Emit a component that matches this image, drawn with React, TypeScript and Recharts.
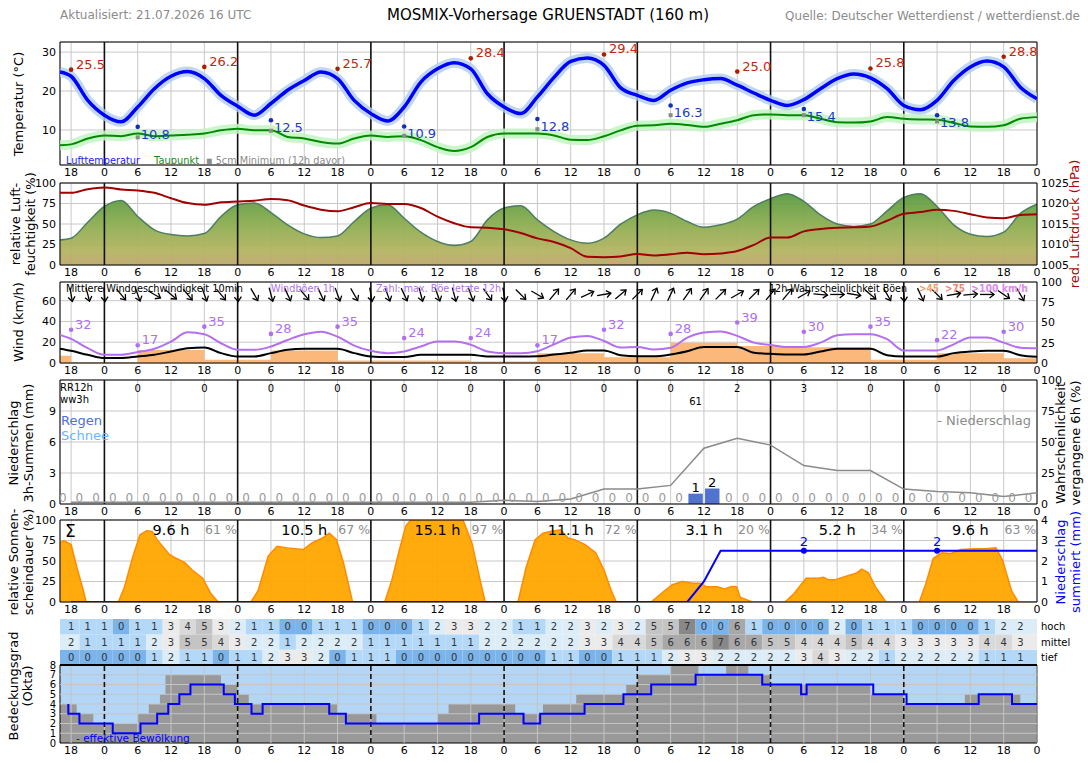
import React from 'react';
import {
  ComposedChart, Line, Area, XAxis, YAxis, CartesianGrid, ReferenceLine, ReferenceArea,
} from 'recharts';

// time axis: hours relative to 22.07. 00 UTC, run starts 21.07. 16 UTC
const START = -8;
const END = 168;

const hours3 = [START, ...Array.from({ length: 59 }, (_, i) => -6 + 3 * i)];

const temperature = [
  24.9, 23.8, 17.6, 13.8, 12.1, 15.9, 20.6, 23.8, 25.0, 23.2,
  18.9, 16.1, 13.8, 16.8, 20.2, 22.7, 24.9, 23.2, 17.6, 14.2,
  12.3, 15.9, 22.3, 25.7, 27.3, 25.7, 19.3, 15.9, 14.2, 18.5,
  23.5, 27.6, 28.5, 26.6, 20.8, 18.9, 17.6, 20.2, 22.1, 22.9,
  23.2, 21.5, 19.5, 17.6, 16.3, 17.8, 20.6, 23.2, 24.4, 23.4,
  20.6, 16.3, 15.2, 17.6, 22.7, 26.2, 27.7, 26.2, 21.0, 18.0,
];
const dewPoint = [
  6.1, 6.3, 7.8, 8.6, 8.4, 9.1, 8.4, 8.6, 8.8, 9.1,
  9.9, 10.3, 9.9, 9.9, 8.2, 7.8, 6.9, 6.5, 7.8, 8.6,
  8.2, 8.4, 7.4, 5.6, 4.6, 5.6, 8.2, 9.1, 9.1, 9.1,
  8.6, 7.5, 7.4, 8.4, 9.9, 11.1, 11.2, 11.6, 11.3, 10.8,
  11.6, 12.5, 13.8, 14.0, 13.8, 13.8, 12.9, 12.0, 11.9, 12.2,
  13.3, 12.9, 12.7, 12.6, 11.8, 10.9, 10.8, 11.2, 12.9, 13.3,
];
const humidity = [
  30.6, 32.7, 52.2, 71.4, 78.8, 59.2, 42.9, 37.1, 35.5, 38.4,
  59.2, 73.5, 75.5, 64, 49, 38, 33.5, 35.5, 53, 69.4,
  73.5, 57, 40, 28.6, 23.7, 28.6, 55, 69.4, 72.2, 55,
  40.8, 30.6, 26.5, 32.7, 49.8, 61.2, 67, 63, 53, 46,
  49, 56, 71.4, 80.8, 87, 77.6, 61, 50, 47, 50,
  66, 82.4, 87, 71.4, 49, 37.6, 34.7, 40, 63, 74.3,
];
const pressure = [
  1022.6, 1022.6, 1023.5, 1023.9, 1023.4, 1023.2, 1022.6, 1021.3, 1020.1, 1019.7,
  1020.3, 1020.5, 1020.7, 1021.1, 1020.8, 1019.5, 1018.5, 1018.1, 1019.1, 1020.1,
  1019.9, 1019.9, 1018.9, 1016.8, 1015.2, 1014.2, 1014.1, 1013.7, 1012.8, 1011.5,
  1010.6, 1009.1, 1007.0, 1006.9, 1007.1, 1007.7, 1007.3, 1007.6, 1008.0, 1007.6,
  1007.8, 1008.4, 1009.9, 1011.7, 1011.7, 1013.2, 1013.8, 1014.1, 1014.2, 1014.4,
  1015.8, 1017.5, 1017.9, 1018.5, 1018.2, 1017.4, 1016.6, 1016.4, 1017.2, 1017.4,
];
const windMean = [
  13.7, 11.7, 7.9, 4.8, 4.8, 6.3, 7.9, 11.1, 14.3, 14.9,
  9.5, 6.3, 6.3, 9.5, 12.7, 13.7, 13.7, 13.7, 9.5, 6.3,
  5.7, 5.7, 7.9, 7.9, 7.9, 7.9, 6.3, 6.3, 6.3, 6.5,
  8.2, 9.8, 12.1, 12.1, 7.5, 6.5, 6.5, 8.2, 11.4, 15.4,
  15.4, 15.4, 9.8, 8.8, 8.2, 8.2, 11.1, 13.7, 13.7, 13.7,
  7.5, 6.2, 6.2, 6.2, 9.5, 11.1, 11.8, 11.8, 7.5, 5.9,
];
const windGust = [
  27, 23.2, 14.3, 7.9, 7.9, 10.5, 13.7, 20.6, 29.5, 27.6,
  19, 12.7, 12.7, 15.9, 22.2, 27.6, 30.2, 25.4, 16.8, 11.7,
  9.5, 11.1, 15.9, 20.6, 20.6, 17.5, 11.1, 9.5, 9.5, 11.4,
  18, 24.5, 26.1, 21.2, 15, 15.4, 13.1, 14.7, 24.5, 29.4,
  30.4, 26.1, 19.6, 17.3, 15.4, 15.4, 19.6, 26.8, 27.8, 27.8,
  22.9, 12.1, 12.1, 12.1, 18, 24.5, 24.5, 19.6, 14.7, 14.1,
];

const maxHours = [-6, 18, 42, 66, 90, 114, 138, 162];
const maxTemp = [25.5, 26.2, 25.7, 28.4, 29.4, 25.0, 25.8, 28.8];
const minHours = [6, 30, 54, 78, 102, 126, 150];
const minTemp = [10.8, 12.5, 10.9, 12.8, 16.3, 15.4, 13.8];
const ground5cm = [8.1, 9.8, 8.5, 10.2, 13.8, 13.8, 12.2];

// wind direction (deg, from) every 3 h
const dirHours = Array.from({ length: 58 }, (_, i) => -6 + 3 * i);
const windDir = [
  350, 345, 355, 320, 340, 300, 310, 320, 340, 320,
  355, 330, 345, 335, 320, 335, 340, 330, 350, 340,
  335, 345, 340, 345, 340, 325, 350, 315, 300,
  220, 220, 245, 260, 230, 225, 205, 205, 215, 215,
  225, 240, 225, 220, 220, 240, 275, 270, 280, 310,
  330, 355, 335, 315, 260, 265, 270, 305, 330,
];

const gustMaxHours = Array.from({ length: 15 }, (_, i) => -6 + 12 * i);
const gustMax = [32, 17, 35, 28, 35, 24, 24, 17, 32, 28, 39, 30, 35, 22, 30];

const gustProbHours = [-8, -6, 6, 18, 30, 42, 54, 66, 78, 90, 102, 114, 126, 138, 150, 162, 168];
const gustProb45 = [9, 1, 16, 4, 15.5, 3, 3, 2, 12, 7, 25, 21, 19.5, 4, 12, 6, 6];

// precipitation, 3 h sums (interval centres)
const precipHours = Array.from({ length: 59 }, (_, i) => -7.5 + 3 * i);
const precip3h = [
  0, 0, 0, 0, 0, 0, 0, 0, 0, 0, 0, 0, 0, 0, 0, 0, 0, 0, 0, 0,
  0, 0, 0, 0, 0, 0, 0, 0, 0, 0, 0, 0, 0, 0, 0, 0, 0, 0, 1.0, 1.5,
  0, 0, 0, 0, 0, 0, 0, 0, 0, 0, 0, 0, 0, 0, 0, 0, 0, 0, 0,
];
const rr12Hours = Array.from({ length: 14 }, (_, i) => 6 + 12 * i);
const rr12 = [0, 0, 0, 0, 0, 0, 0, 0, 0, 2, 3, 0, 0, 0];
const wwHours = [106.5];
const wwCode = [61];
const probHours = Array.from({ length: 30 }, (_, i) => -6 + 6 * i);
const precipProb = [
  1.5, 1.5, 1.5, 1.5, 1.5, 1.5, 1.5, 1.5, 1.5, 1.5, 1.5, 1.5, 1.5,
  3, 2, 4, 12, 12, 15, 45, 53, 47.5, 31, 27, 27, 12, 10, 9, 6, 9,
];

// relative sunshine duration (%)
const sunT = [
  -8, -7.3, -6, -5, -3.8, -3.3,
  2.5, 3.6, 5.1, 6.4, 7.6, 8.6, 9.5, 11.7, 13, 14.5, 15.8, 17.7, 19.2, 20.5,
  26.4, 27.7, 29.5, 31.1, 33, 35.8, 37.4, 39.3, 40.5, 41.8, 43.1, 44.7,
  50.5, 51.8, 53, 54.3, 55.2, 64.6, 66.2, 67.8, 68.6,
  74.5, 76, 77.6, 79, 80.3, 82.2, 83.5, 84.7, 86.6, 88.5, 90, 91.3, 92.2,
  98.5, 100.4, 102.3, 104.1, 106, 107.3, 108.5, 110.4, 111.7, 113, 113.9, 114.5, 116, 116.7,
  122.6, 124.2, 126.4, 128.6, 129.5, 130.5, 131.6, 132.9, 135.4, 136.4, 137.6, 138.9, 140.8,
  146.8, 148, 149.3, 150.8, 152.4, 154.3, 156.8, 158.7, 160.6, 161.8, 163.4, 164.6, 168,
];
const sunV = [
  72, 75, 70, 43, 14, 0,
  0, 18, 55, 82, 87, 86, 76, 58, 53, 48, 39, 29, 10, 0,
  0, 14, 56, 68, 66, 64, 72, 78, 84, 76, 47, 0,
  0, 27, 60, 93, 100, 100, 72, 23, 0,
  0, 43, 76, 84, 86, 88, 78, 76, 70, 60, 39, 14, 0,
  0, 11, 21, 25, 23, 23, 18.5, 18.5, 16, 19, 18.5, 6, 2, 0,
  0, 10, 29, 29, 30, 27, 27, 30, 35, 40, 36, 18.5, 0,
  0, 23, 53, 60, 59, 64, 65, 65, 66, 51, 14, 0, 0,
];
const sunDayHours = [9.6, 10.5, 15.1, 11.1, 3.1, 5.2, 9.6];
const sunDayPct = [61, 67, 97, 72, 20, 34, 63];
const sumMarkHours = [126, 150];

// cloud layers (okta) every 3 h
const layerHours = Array.from({ length: 58 }, (_, i) => -6 + 3 * i);
const cloudHigh = [
  1, 1, 1, 0, 1, 1, 3, 4, 5, 3, 2, 1, 1, 0, 0, 1, 1, 1, 0, 0, 0, 1, 2, 3, 3, 2, 2, 1, 1,
  2, 2, 3, 2, 3, 2, 5, 5, 7, 0, 0, 6, 1, 0, 0, 0, 0, 2, 0, 1, 1, 1, 0, 0, 0, 0, 1, 2, 2,
];
const cloudMid = [
  2, 1, 1, 1, 1, 2, 3, 5, 5, 4, 3, 2, 2, 1, 2, 2, 2, 2, 1, 1, 1, 1, 1, 1, 1, 2, 2, 2, 2,
  2, 2, 3, 3, 4, 4, 5, 6, 6, 6, 7, 6, 6, 5, 5, 4, 4, 4, 5, 4, 4, 3, 3, 3, 3, 3, 4, 4, 3,
];
const cloudLow = [
  0, 0, 0, 0, 0, 1, 2, 1, 1, 0, 1, 1, 2, 3, 3, 2, 0, 1, 1, 1, 0, 0, 0, 0, 0, 0, 0, 0, 0,
  1, 1, 0, 0, 1, 1, 1, 2, 3, 3, 2, 2, 2, 2, 2, 3, 4, 3, 2, 2, 1, 2, 2, 2, 2, 2, 1, 1, 1,
];
const totalCloudHours = [-8, -5, -2, 6, 8, 10, 11, 21, 24, 26, 42, 49, 60, 62, 74, 79, 85, 94, 96, 102, 107, 112, 116, 120, 138, 144, 155, 165, 168];
const totalCloud = [4, 3, 2, 3, 4, 5, 7, 6, 5, 4, 3, 2, 3, 4, 3, 4, 5, 6, 7, 8, 7, 8, 7, 6, 5, 4, 5, 4, 4];
const effCloudHours = [-6.5, -6.5, -4.5, 1.5, 6.5, 9.5, 11.5, 13.5, 15.5, 21.5, 23.5, 26.5, 28.5, 40.5, 43.5, 67.5, 75.5, 78.5, 86.5, 93.5, 98.5, 106.5, 118.5, 125.5, 126.5, 138.5, 144.5, 157.5, 163.5, 168];
const effCloud = [4, 3, 2, 1, 2, 3, 4, 5, 6, 5, 4, 3, 4, 3, 2, 3, 2, 3, 4, 5, 6, 7, 6, 5, 6, 5, 4, 5, 4, 4];

const dayTicks = [-4, 12, 36, 60, 84, 108, 132, 156];
const dayNames = ['Di', 'Mi 22.07', 'Do 23.07', 'Fr 24.07', 'Sa 25.07', 'So 26.07', 'Mo 27.07', 'Di 28.07'];
const layerNames = ['tief', 'mittel', 'hoch'];

// ---- rows for the series ----
const meteoRows = hours3.map((h, i) => ({
  h, t: temperature[i], td: dewPoint[i], rh: humidity[i], p: pressure[i], ff: windMean[i], fx: windGust[i],
}));
const maxRows = maxHours.map((h, i) => ({ h, v: maxTemp[i] }));
const minRows = minHours.map((h, i) => ({ h, v: minTemp[i] }));
const groundRows = minHours.map((h, i) => ({ h, v: ground5cm[i] }));
const dirRows = dirHours.map((h, i) => ({ h, dir: windDir[i] }));
const gustMaxRows = gustMaxHours.map((h, i) => ({ h, v: gustMax[i] }));
const gustProbRows = gustProbHours.map((h, i) => ({ h, p: gustProb45[i] }));
const precipRows = precipHours.map((h, i) => ({ h, mm: precip3h[i] }));
const rr12Rows = rr12Hours.map((h, i) => ({ h, rr: rr12[i] }));
const wwRows = wwHours.map((h, i) => ({ h, ww: wwCode[i] }));
const probRows = probHours.map((h, i) => ({ h, p: precipProb[i] }));
const sunRows = sunT.map((h, i) => ({ h, s: sunV[i] }));
let running = 0;
const sumRows = precipHours.map((h, i) => {
  running += precip3h[i];
  return { h: h + 1.5, sum: running };
});
const sumMarks = sumMarkHours.map((h) => ({ h, sum: sumRows.find((r) => r.h === h)!.sum }));
const sunHourRows = sunDayHours.map((s, i) => ({ h: 12 + 24 * i, s }));
const sunPctRows = sunDayPct.map((pct, i) => ({ h: 21 + 24 * i, pct }));
const layerRows = layerHours.map((h, i) => ({ h, low: cloudLow[i], mid: cloudMid[i], high: cloudHigh[i] }));
const totalRows = totalCloudHours.map((h, i) => ({ h, n: totalCloud[i] }));
const effRows = effCloudHours.map((h, i) => ({ h, n: effCloud[i] }));

// ---- styling ----
const FONT = "'DejaVu Sans', Verdana, sans-serif";
const TICK = { fontSize: 11, fill: '#000' };
const X_TICKS = Array.from({ length: 30 }, (_, i) => -6 + 6 * i);
const DAY_LINES = [0, 24, 48, 72, 96, 120, 144];
const hourLabel = (h: number) => String(((h % 24) + 24) % 24);
const oktaColor = ['#7ab4ea', '#b4d8f8', '#dcedf8', '#ebebeb', '#d9d9d9', '#c4c4c4', '#a8a8a8', '#888888', '#707070'];

const timeAxis = {
  dataKey: 'h', type: 'number' as const, domain: [START, END], ticks: X_TICKS, interval: 0 as const,
  allowDataOverflow: true, tickFormatter: hourLabel, tick: TICK, tickLine: false, axisLine: false,
  tickSize: 0, tickMargin: 3, height: 18,
};
const leftAxis = { width: 60, tick: TICK, tickLine: false, axisLine: false, tickSize: 0, tickMargin: 4, allowDataOverflow: true, interval: 0 as const };
const rightAxis = { ...leftAxis, yAxisId: 'r', orientation: 'right' as const, width: 51, tickMargin: 4 };

const dayLines = (dash?: string) => DAY_LINES.map((d) => (
  <ReferenceLine key={`d${d}`} x={d} stroke="#111" strokeWidth={1.6} strokeDasharray={dash} />
));
const frame = (lo: number, hi: number) => (
  <ReferenceArea x1={START} x2={END} y1={lo} y2={hi} fill="none" stroke="#000" strokeWidth={1} ifOverflow="visible" />
);

// ---- marker renderers ----
const maxDot = (p: any) => (
  <g key={p.index}>
    <circle cx={p.cx} cy={p.cy} r={2.3} fill="#b01c00" />
    <text x={p.cx + 5} y={p.cy - 1} fontSize={13} fill="#c0280c">{p.payload.v.toFixed(1)}</text>
  </g>
);
const minDot = (p: any) => (
  <g key={p.index}>
    <circle cx={p.cx} cy={p.cy} r={2.3} fill="#1030b8" />
    <text x={p.cx + 3} y={p.cy + 12} fontSize={13} fill="#1a3cc8">{p.payload.v.toFixed(1)}</text>
  </g>
);
const groundDot = (p: any) => (
  <rect key={p.index} x={p.cx - 2} y={p.cy - 2} width={4} height={4} fill="#8a8a8a" />
);
const gustDot = (p: any) => (
  <g key={p.index}>
    <circle cx={p.cx} cy={p.cy} r={2.3} fill="#b070f0" />
    <text x={p.cx + 4} y={p.cy - 1} fontSize={13} fill="#b070f0">{p.payload.v}</text>
  </g>
);
const arrowDot = (p: any) => (
  <g key={p.index} transform={`translate(${p.cx},${p.cy}) rotate(${p.payload.dir})`} stroke="#000" strokeWidth={1.3} fill="none">
    <line x1={0} y1={-7} x2={0} y2={7} />
    <polyline points="-3.5,2.5 0,7 3.5,2.5" />
  </g>
);
const precipLabel = (p: any) => {
  const wet = p.payload.mm > 0;
  return (
    <text key={p.index} x={p.cx} y={p.cy - 2} textAnchor="middle" fontSize={wet ? 13 : 12} fill={wet ? '#000' : '#9a9a9a'}>
      {Math.round(p.payload.mm)}
    </text>
  );
};
const rr12Label = (p: any) => (
  <text key={p.index} x={p.cx} y={p.cy + 12} textAnchor="middle" fontSize={10} fill="#000">{p.payload.rr}</text>
);
const wwLabel = (p: any) => (
  <text key={p.index} x={p.cx} y={p.cy + 25} textAnchor="middle" fontSize={10} fill="#000">{p.payload.ww}</text>
);
const sumDot = (p: any) => (
  <g key={p.index}>
    <circle cx={p.cx} cy={p.cy} r={3} fill="#0000ff" />
    <text x={p.cx} y={p.cy - 5} textAnchor="middle" fontSize={13} fill="#0000ff">{Math.floor(p.payload.sum)}</text>
  </g>
);
const sunHourLabel = (p: any) => (
  <text key={p.index} x={p.cx} y={p.cy + 15} textAnchor="middle" fontSize={14.5} fill="#000">{`${p.payload.s} h`}</text>
);
const sunPctLabel = (p: any) => (
  <text key={p.index} x={p.cx} y={p.cy + 14} textAnchor="middle" fontSize={12.5} fill="#8c8c8c">{`${p.payload.pct} %`}</text>
);
const layerLabel = (key: 'low' | 'mid' | 'high') => (p: any) => (
  <text key={p.index} x={p.cx} y={p.cy + 3.5} textAnchor="middle" fontSize={10} fill="#333">{p.payload[key]}</text>
);

const noDot = { dot: false, activeDot: false, isAnimationActive: false };

const vText = (x: number, y: number, lines: string[], color = '#000', gap = 15) => lines.map((s, i) => (
  <text key={s} transform={`translate(${x + i * gap},${y}) rotate(-90)`} textAnchor="middle" dominantBaseline="central" fontSize={13} fill={color}>{s}</text>
));

// one coloured cell per 3 h slot and layer
const layerCells = (key: 'low' | 'mid' | 'high', row: number) => layerRows.map((r, i) => (
  <ReferenceArea
    key={`c${row}-${r.h}`}
    yAxisId="r"
    x1={i === 0 ? START : r.h - 1.5}
    x2={i === layerRows.length - 1 ? END : r.h + 1.5}
    y1={row}
    y2={row + 1}
    fill={oktaColor[r[key]]}
    fillOpacity={1}
    stroke="none"
  />
));

export default function App() {
  return (
    <div style={{ position: 'absolute', left: 0, top: 0, width: 1088, height: 763, background: '#fff', fontFamily: FONT, overflow: 'hidden' }}>
      {/* temperature */}
      <div style={{ position: 'absolute', left: 0, top: 18 }}>
        <ComposedChart width={1088} height={165} margin={{ top: 0, right: 51, bottom: 0, left: 0 }}>
          <CartesianGrid stroke="#c8c8c8" />
          <XAxis {...timeAxis} />
          <XAxis xAxisId="days" orientation="top" dataKey="h" type="number" domain={[START, END]} ticks={dayTicks} interval={0}
            tickFormatter={(v: number) => dayNames[dayTicks.indexOf(v)]} tick={{ fontSize: 13.5, fill: '#000' }}
            tickLine={false} axisLine={false} tickSize={0} tickMargin={4} height={24} />
          <YAxis {...leftAxis} domain={[1, 32.6]} ticks={[10, 20, 30]} />
          {dayLines()}
          <Line data={meteoRows} dataKey="td" type="monotone" stroke="#c2f5c2" strokeWidth={10} strokeOpacity={0.85} {...noDot} />
          <Line data={meteoRows} dataKey="t" type="monotone" stroke="#b0cdee" strokeWidth={10} strokeOpacity={0.8} {...noDot} />
          <Line data={meteoRows} dataKey="td" type="monotone" stroke="#008a00" strokeWidth={2} {...noDot} />
          <Line data={meteoRows} dataKey="t" type="monotone" stroke="#0000ff" strokeWidth={3.5} {...noDot} />
          <Line data={groundRows} dataKey="v" stroke="none" dot={groundDot} activeDot={false} isAnimationActive={false} />
          <Line data={maxRows} dataKey="v" stroke="none" dot={maxDot} activeDot={false} isAnimationActive={false} />
          <Line data={minRows} dataKey="v" stroke="none" dot={minDot} activeDot={false} isAnimationActive={false} />
          {frame(1, 32.6)}
        </ComposedChart>
      </div>

      {/* humidity and pressure */}
      <div style={{ position: 'absolute', left: 0, top: 173 }}>
        <ComposedChart width={1088} height={110} margin={{ top: 10, right: 0, bottom: 0, left: 0 }}>
          <defs>
            <linearGradient id="humFill" x1="0" y1="0" x2="0" y2="1">
              <stop offset="0" stopColor="#5a9a40" />
              <stop offset="0.45" stopColor="#8fae52" />
              <stop offset="0.8" stopColor="#b4b462" />
              <stop offset="1" stopColor="#bea86c" />
            </linearGradient>
          </defs>
          <CartesianGrid stroke="#c8c8c8" />
          <XAxis {...timeAxis} />
          <YAxis {...leftAxis} domain={[0, 100]} ticks={[0, 25, 50, 75, 100]} />
          <YAxis {...rightAxis} domain={[1005, 1025]} ticks={[1005, 1010, 1015, 1020, 1025]} />
          <Area data={meteoRows} dataKey="rh" type="monotone" fill="url(#humFill)" fillOpacity={0.95} stroke="#4e7d60" strokeWidth={1.5} {...noDot} />
          {dayLines()}
          <Line yAxisId="r" data={meteoRows} dataKey="p" type="monotone" stroke="#a00000" strokeWidth={2} {...noDot} />
          {frame(0, 100)}
        </ComposedChart>
      </div>

      {/* wind */}
      <div style={{ position: 'absolute', left: 0, top: 272 }}>
        <ComposedChart width={1088} height={109} margin={{ top: 10, right: 0, bottom: 0, left: 0 }}>
          <CartesianGrid stroke="#c8c8c8" />
          <XAxis {...timeAxis} />
          <YAxis {...leftAxis} domain={[0, 78]} ticks={[0, 20, 40, 60]} />
          <YAxis {...rightAxis} domain={[0, 100]} ticks={[0, 25, 50, 75, 100]} />
          <Area yAxisId="r" data={gustProbRows} dataKey="p" type="stepAfter" fill="#fab97b" fillOpacity={1} stroke="none" {...noDot} />
          {dayLines()}
          <Line data={meteoRows} dataKey="fx" type="monotone" stroke="#b36ff0" strokeWidth={2} {...noDot} />
          <Line data={meteoRows} dataKey="ff" type="monotone" stroke="#000" strokeWidth={2} {...noDot} />
          <Line data={gustMaxRows} dataKey="v" stroke="none" dot={gustDot} activeDot={false} isAnimationActive={false} />
          <Line data={dirRows} dataKey={() => 66} stroke="none" dot={arrowDot} activeDot={false} isAnimationActive={false} />
          {frame(0, 78)}
        </ComposedChart>
      </div>

      {/* precipitation */}
      <div style={{ position: 'absolute', left: 0, top: 370 }}>
        <ComposedChart width={1088} height={152} margin={{ top: 10, right: 0, bottom: 0, left: 0 }}>
          <CartesianGrid stroke="#c8c8c8" />
          <XAxis {...timeAxis} />
          <YAxis {...leftAxis} domain={[0, 12]} ticks={[0, 3, 6, 9]} />
          <YAxis {...rightAxis} domain={[0, 100]} ticks={[0, 25, 50, 75, 100]} />
          {dayLines()}
          {precipRows.filter((r) => r.mm > 0).map((r) => (
            <ReferenceArea key={`p${r.h}`} x1={r.h - 1.3} x2={r.h + 1.3} y1={0} y2={r.mm} fill="#4f73cf" fillOpacity={1} stroke="none" />
          ))}
          <Line yAxisId="r" data={probRows} dataKey="p" type="linear" stroke="#8a8a8a" strokeWidth={1.5} {...noDot} />
          <Line data={precipRows} dataKey="mm" stroke="none" dot={precipLabel} activeDot={false} isAnimationActive={false} />
          <Line data={rr12Rows} dataKey={() => 12} stroke="none" dot={rr12Label} activeDot={false} isAnimationActive={false} />
          <Line data={wwRows} dataKey={() => 12} stroke="none" dot={wwLabel} activeDot={false} isAnimationActive={false} />
          {frame(0, 12)}
        </ComposedChart>
      </div>

      {/* sunshine and accumulated precipitation */}
      <div style={{ position: 'absolute', left: 0, top: 510 }}>
        <ComposedChart width={1088} height={110} margin={{ top: 10, right: 0, bottom: 0, left: 0 }}>
          <CartesianGrid stroke="#c8c8c8" />
          <XAxis {...timeAxis} />
          <YAxis {...leftAxis} domain={[0, 100]} ticks={[0, 25, 50, 75, 100]} />
          <YAxis {...rightAxis} domain={[0, 4]} ticks={[0, 1, 2, 3, 4]} />
          <Area data={sunRows} dataKey="s" type="linear" fill="#ffa500" fillOpacity={0.95} stroke="#ff8c00" strokeWidth={1.5} {...noDot} />
          {dayLines()}
          <Line yAxisId="r" data={sumRows} dataKey="sum" type="linear" stroke="#0000ff" strokeWidth={2} {...noDot} />
          <Line yAxisId="r" data={sumMarks} dataKey="sum" stroke="none" dot={sumDot} activeDot={false} isAnimationActive={false} />
          <Line data={sunHourRows} dataKey={() => 100} stroke="none" dot={sunHourLabel} activeDot={false} isAnimationActive={false} />
          <Line data={sunPctRows} dataKey={() => 100} stroke="none" dot={sunPctLabel} activeDot={false} isAnimationActive={false} />
          {frame(0, 100)}
        </ComposedChart>
      </div>

      {/* cloud layers table */}
      <div style={{ position: 'absolute', left: 0, top: 609 }}>
        <ComposedChart width={1088} height={56} margin={{ top: 10, right: 0, bottom: 0, left: 0 }}>
          <XAxis {...timeAxis} hide />
          <YAxis width={60} domain={[0, 3]} tick={false} tickLine={false} axisLine={false} />
          <YAxis yAxisId="r" orientation="right" width={51} domain={[0, 3]} ticks={[0.5, 1.5, 2.5]} interval={0}
            tickFormatter={(v: number) => layerNames[Math.floor(v)]}
            tick={{ fontSize: 10, fill: '#000' }} tickLine={false} axisLine={false} tickSize={0} tickMargin={4} />
          {layerCells('low', 0)}
          {layerCells('mid', 1)}
          {layerCells('high', 2)}
          <Line yAxisId="r" data={layerRows} dataKey={() => 0.5} stroke="none" dot={layerLabel('low')} activeDot={false} isAnimationActive={false} />
          <Line yAxisId="r" data={layerRows} dataKey={() => 1.5} stroke="none" dot={layerLabel('mid')} activeDot={false} isAnimationActive={false} />
          <Line yAxisId="r" data={layerRows} dataKey={() => 2.5} stroke="none" dot={layerLabel('high')} activeDot={false} isAnimationActive={false} />
        </ComposedChart>
      </div>

      {/* cloud cover */}
      <div style={{ position: 'absolute', left: 0, top: 655 }}>
        <ComposedChart width={1088} height={106} margin={{ top: 10, right: 51, bottom: 0, left: 0 }}>
          <XAxis {...timeAxis} />
          <YAxis {...leftAxis} domain={[0, 8]} ticks={[0, 1, 2, 3, 4, 5, 6, 7, 8]} tick={{ fontSize: 10, fill: '#000' }} />
          <ReferenceArea x1={START} x2={END} y1={0} y2={8} fill="#b4d6f6" fillOpacity={1} stroke="none" />
          <Area data={totalRows} dataKey="n" type="stepAfter" fill="#999999" fillOpacity={1} stroke="none" {...noDot} />
          {[1, 2, 3, 4, 5, 6, 7].map((n) => (
            <ReferenceLine key={`g${n}`} y={n} stroke="#c4c4c4" strokeWidth={1} />
          ))}
          {X_TICKS.map((h) => (
            <ReferenceLine key={`v${h}`} x={h} stroke="#c4c4c4" strokeWidth={1} />
          ))}
          {dayLines('5 3')}
          <Line data={effRows} dataKey="n" type="stepAfter" stroke="#0000ff" strokeWidth={2} {...noDot} />
          {frame(0, 8)}
          <ReferenceLine y={8} stroke="#000" strokeWidth={2} />
        </ComposedChart>
      </div>

      {/* titles, axis captions, legends */}
      <svg width={1088} height={763} style={{ position: 'absolute', left: 0, top: 0, pointerEvents: 'none', fontFamily: FONT }}>
        <text x={60} y={19} fontSize={12} fill="#8c8c8c">Aktualisiert: 21.07.2026 16 UTC</text>
        <text x={548} y={20} fontSize={15} fill="#000" textAnchor="middle">MOSMIX-Vorhersage GRUENSTADT (160 m)</text>
        <text x={1080} y={20} fontSize={12} fill="#8c8c8c" textAnchor="end">Quelle: Deutscher Wetterdienst / wetterdienst.de</text>

        {vText(18, 104, ['Temperatur (°C)'])}
        {vText(15, 224, ['relative Luft-', 'feuchtigkeit (%)'])}
        {vText(1074, 224, ['red. Luftdruck (hPa)'], '#b00000')}
        {vText(18, 322, ['Wind (km/h)'])}
        {vText(13, 443, ['Niederschlag', '3h-Summen (mm)'])}
        {vText(1060, 443, ['Wahrscheinlichkeit', 'vergangene 6h (%)'])}
        {vText(13, 562, ['relative Sonnen-', 'scheindauer (%)'])}
        {vText(1060, 562, ['Niederschlag', 'summiert (mm)'], '#0000ff')}
        {vText(13, 686, ['Bedeckungsgrad', '(Okta)'], '#000', 14)}

        <text x={66} y={164} fontSize={10.5} fill="#1a1aff" textLength={74} lengthAdjust="spacingAndGlyphs">Lufttemperatur</text>
        <text x={154} y={164} fontSize={10.5} fill="#1a8a1a" textLength={45} lengthAdjust="spacingAndGlyphs">Taupunkt</text>
        <text x={206} y={164} fontSize={10.5} fill="#8c8c8c" textLength={139} lengthAdjust="spacingAndGlyphs">▪ 5cm Minimum (12h davor)</text>

        <text x={66} y={292} fontSize={11} fill="#000" textLength={177} lengthAdjust="spacingAndGlyphs">Mittlere Windgeschwindigkeit 10min</text>
        <text x={271} y={292} fontSize={11} fill="#b070f0" textLength={64} lengthAdjust="spacingAndGlyphs">Windböen 1h</text>
        <text x={376} y={292} fontSize={11} fill="#b070f0" textLength={125} lengthAdjust="spacingAndGlyphs">Zahl: max. Böe letzte 12h</text>
        <text x={769} y={292} fontSize={10.5} fill="#000" textLength={138} lengthAdjust="spacingAndGlyphs">12h Wahrscheinlichkeit Böen</text>
        <text x={919} y={292} fontSize={11} fill="#f0a070" fontWeight="bold" textLength={20} lengthAdjust="spacingAndGlyphs">&gt;45</text>
        <text x={945} y={292} fontSize={11} fill="#f08878" fontWeight="bold" textLength={20} lengthAdjust="spacingAndGlyphs">&gt;75</text>
        <text x={971} y={292} fontSize={11} fill="#e088f0" fontWeight="bold" textLength={57} lengthAdjust="spacingAndGlyphs">&gt;100 km/h</text>

        <text x={60} y={391} fontSize={10} fill="#000">RR12h</text>
        <text x={60} y={403} fontSize={10} fill="#000">ww3h</text>
        <text x={61} y={425} fontSize={13} fill="#4a6fd6">Regen</text>
        <text x={61} y={440} fontSize={13} fill="#6cb4ff">Schnee</text>
        <text x={1031} y={425} fontSize={13} fill="#8c8c8c" textAnchor="end">- Niederschlag</text>

        <text x={65} y={537} fontSize={17} fill="#000">Σ</text>
        <text x={76} y={742} fontSize={10.5} fill="#0000ff">- effektive Bewölkung</text>
      </svg>
    </div>
  );
}
